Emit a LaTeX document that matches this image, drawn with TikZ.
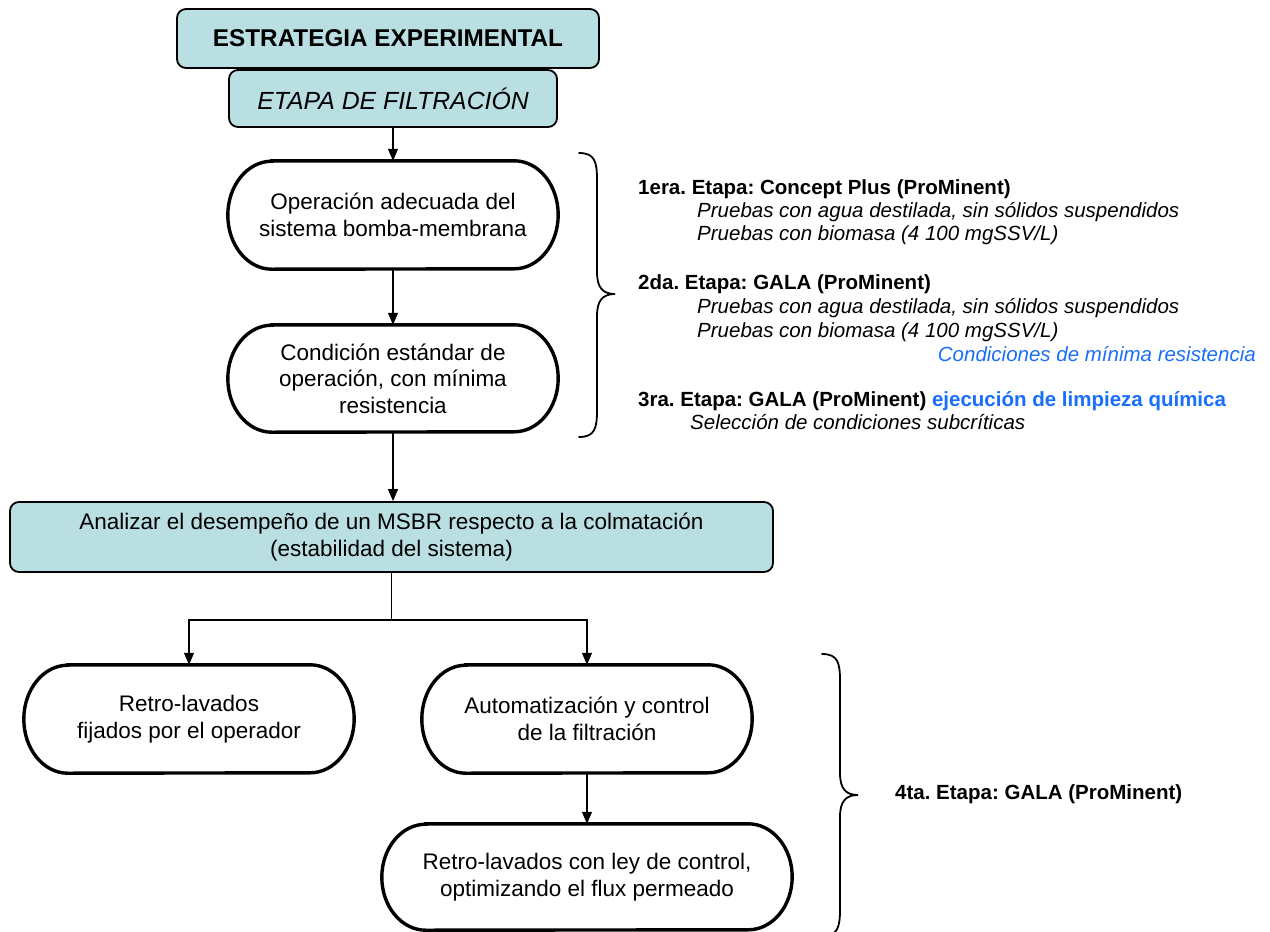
\documentclass[tikz,border=0pt]{standalone}
\usepackage{fontspec}
\setmainfont{Liberation Sans}
\usetikzlibrary{arrows.meta}
\frenchspacing

\definecolor{boxteal}{RGB}{185,223,227}
\definecolor{noteblue}{RGB}{25,110,250}

\newcommand\boxfont{\fontsize{22.5}{26.5}\selectfont}
\newcommand\notefont{\fontsize{20.5}{24}\selectfont}
\newcommand\capr{44pt}

% capsule: name, x, y, width, height, text
\newcommand\capsule[6]{%
  \node[capsule, minimum width=#4pt, minimum height=#5pt] (#1) at (#2,#3) {#6};
  \draw[capsuleline]
    ([xshift=\capr]#1.north west) -- ([xshift=-\capr]#1.north east)
    arc[start angle=90, end angle=-90, x radius=\capr, y radius=#5pt/2]
    -- ([xshift=\capr]#1.south west)
    arc[start angle=270, end angle=90, x radius=\capr, y radius=#5pt/2]
    -- cycle;}

\tikzset{
  tealbox/.style={draw=black, line width=1.8pt, fill=boxteal, rounded corners=9pt,
                  inner sep=0pt, align=center, font=\boxfont},
  capsule/.style={inner sep=0pt, align=center, font=\boxfont},
  capsuleline/.style={line width=3.4pt},
  flow/.style={line width=1.1pt, -{Triangle[length=12pt,width=10pt]}},
  link/.style={line width=1.1pt},
  brace/.style={line width=1.8pt, line cap=round},
  note/.style={anchor=base west, inner sep=0pt, font=\notefont},
}

\begin{document}
\begin{tikzpicture}[x=1pt, y=1pt]
\useasboundingbox (0,0) rectangle (1270,-932);

% header boxes
\node[tealbox, minimum width=422pt, minimum height=59pt,
      font=\fontsize{24.3}{28}\selectfont\bfseries] (title) at (388,-38.5)
      {ESTRATEGIA EXPERIMENTAL};
\node[tealbox, minimum width=328pt, minimum height=57pt,
      font=\fontsize{24.8}{28}\selectfont\itshape] (etapa) at (393,-98.5)
      {ETAPA DE FILTRACIÓN};

% filtration stage
\capsule{s1}{393}{-215}{330}{108}{Operación adecuada del\\sistema bomba-membrana}
\capsule{s2}{393}{-378.5}{330}{107}{Condición estándar de\\operación, con mínima\\resistencia}

\node[tealbox, minimum width=763pt, minimum height=70pt] (analizar) at (391.5,-537)
      {Analizar el desempeño de un MSBR respecto a la colmatación\\(estabilidad del sistema)};

% backwash branches
\capsule{s3}{189}{-719}{330}{108}{Retro-lavados\\fijados por el operador}
\capsule{s4}{587}{-719}{330}{108}{Automatización y control\\de la filtración}
\capsule{s5}{587}{-877}{410}{106}{Retro-lavados con ley de control,\\optimizando el flux permeado}

% connectors
\draw[flow] (etapa.south) -- (s1.north);
\draw[flow] (s1.south) -- (s2.north);
\draw[flow] (s2.south) -- (s2.south |- analizar.north);
\coordinate (split) at (391.5,-620);
\draw[link] (analizar.south) -- (split);
\draw[flow] (split) -| (s3.north);
\draw[flow] (split) -| (s4.north);
\draw[flow] (s4.south) -- (s5.north);

% braces
\draw[brace] (579,-153) .. controls (595,-153) and (597,-162) .. (597,-180)
  -- (597,-272) .. controls (597,-288) and (603,-294) .. (615,-294)
  .. controls (603,-294) and (597,-300) .. (597,-316)
  -- (597,-410) .. controls (597,-428) and (595,-437) .. (579,-437);
\draw[brace] (822,-654) .. controls (838,-654) and (840,-663) .. (840,-681)
  -- (840,-773) .. controls (840,-789) and (846,-795) .. (858,-795)
  .. controls (846,-795) and (840,-801) .. (840,-817)
  -- (840,-909) .. controls (840,-927) and (838,-936) .. (822,-936);

% stage notes
\node[note, font=\notefont\bfseries] (n1) at (638,-194) {1era. Etapa: Concept Plus (ProMinent)};
\node[note, font=\notefont\itshape] (n1a) at (697,-217) {Pruebas con agua destilada, sin sólidos suspendidos};
\node[note, font=\notefont\itshape] (n1b) at (697,-240) {Pruebas con biomasa (4 100 mgSSV/L)};
\node[note, font=\notefont\bfseries] (n2) at (638,-289) {2da. Etapa: GALA (ProMinent)};
\node[note, font=\notefont\itshape] (n2a) at (697,-313) {Pruebas con agua destilada, sin sólidos suspendidos};
\node[note, font=\notefont\itshape] (n2b) at (697,-337) {Pruebas con biomasa (4 100 mgSSV/L)};
\node[note, anchor=base east, font=\notefont\itshape, text=noteblue] (n2c) at (1256,-361)
      {Condiciones de mínima resistencia};
\node[note, font=\notefont\bfseries] (n3) at (638,-406)
      {3ra. Etapa: GALA (ProMinent) \textcolor{noteblue}{ejecución de limpieza química}};
\node[note, font=\notefont\itshape] (n3a) at (690,-429) {Selección de condiciones subcríticas};
\node[note, font=\notefont\bfseries] (n4) at (895,-799) {4ta. Etapa: GALA (ProMinent)};
\end{tikzpicture}
\end{document}
